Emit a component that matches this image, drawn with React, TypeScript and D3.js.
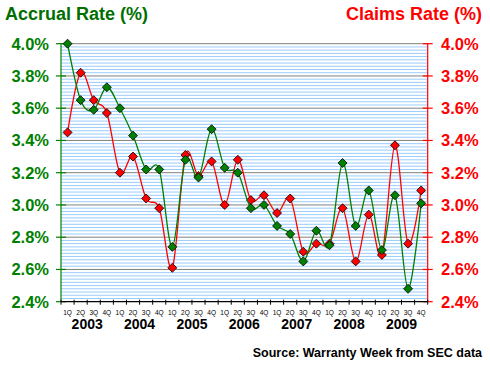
import React from 'react';
import * as d3 from 'd3';

const years = ['2003', '2004', '2005', '2006', '2007', '2008', '2009'];
const quarterLabels = ['1Q', '2Q', '3Q', '4Q'];
const accrualRate = [4.0, 3.65, 3.59, 3.73, 3.6, 3.43, 3.22, 3.22, 2.74, 3.28, 3.17, 3.47, 3.23, 3.2, 2.98, 3.0, 2.87, 2.82, 2.65, 2.84, 2.75, 3.26, 2.87, 3.09, 2.72, 3.06, 2.48, 3.01];
const claimsRate = [3.45, 3.82, 3.65, 3.57, 3.2, 3.3, 3.04, 2.98, 2.61, 3.31, 3.18, 3.27, 3.0, 3.28, 3.03, 3.06, 2.95, 3.04, 2.71, 2.76, 2.76, 2.98, 2.65, 2.94, 2.69, 3.37, 2.76, 3.09];
const yTicks = [2.4, 2.6, 2.8, 3.0, 3.2, 3.4, 3.6, 3.8, 4.0];

const GREEN = '#008000';
const RED = '#ff0000';
const FONT = '"Liberation Sans", Arial, sans-serif';

export default function App() {
  const width = 490;
  const height = 365;
  const left = 61;
  const right = 427.7;
  const top = 43.7;
  const bottom = 301.7;

  const idx = d3.range(accrualRate.length);
  const x = d3.scaleBand<number>().domain(idx).range([left, right]);
  const cx = (i: number) => (x(i) as number) + x.bandwidth() / 2;
  const y = d3.scaleLinear().domain([2.4, 4.0]).range([bottom, top]);

  const line = d3.line<number>()
    .x((d, i) => cx(i))
    .y(d => y(d))
    .curve(d3.curveCatmullRom.alpha(0));

  // minor grid every 0.02, major every 0.2
  const grid = d3.range(0, 81).map(k => ({ v: 2.4 + k * 0.02, major: k % 10 === 0 }));

  const diamond = (px: number, py: number, r = 4.5) =>
    `M${px},${py - r}L${px + r},${py}L${px},${py + r}L${px - r},${py}Z`;

  const boundaries = d3.range(0, accrualRate.length + 1).map(i =>
    i < accrualRate.length ? (x(i) as number) : right);

  return (
    <svg width={width} height={height} style={{ position: 'absolute', left: 0, top: 0, background: '#fff' }} fontFamily={FONT}>
      <rect x={0} y={0} width={width} height={height} fill="#fff" />

      {grid.filter(g => !g.major).map(g => (
        <line key={'m' + g.v} x1={left} x2={right} y1={y(g.v)} y2={y(g.v)} stroke="#99ccff" strokeWidth={1} />
      ))}
      {grid.filter(g => g.major && g.v > 2.41).map(g => (
        <line key={'M' + g.v} x1={left} x2={right} y1={y(g.v)} y2={y(g.v)} stroke="#808080" strokeWidth={1} />
      ))}

      {/* left axis */}
      <line x1={left} x2={left} y1={top} y2={bottom} stroke={GREEN} strokeWidth={1.2} />
      {yTicks.map(t => (
        <g key={'l' + t}>
          <line x1={left - 5} x2={left + 5} y1={y(t)} y2={y(t)} stroke={GREEN} strokeWidth={1.2} />
          <text x={49} y={y(t) + 5.8} textAnchor="end" fill={GREEN} fontSize={16.5} fontWeight="bold">{t.toFixed(1)}%</text>
        </g>
      ))}

      {/* right axis */}
      <line x1={right} x2={right} y1={top} y2={bottom} stroke={RED} strokeWidth={1.2} />
      {yTicks.map(t => (
        <g key={'r' + t}>
          <line x1={right - 5} x2={right + 5} y1={y(t)} y2={y(t)} stroke={RED} strokeWidth={1.2} />
          <text x={441} y={y(t) + 5.8} textAnchor="start" fill={RED} fontSize={16.5} fontWeight="bold">{t.toFixed(1)}%</text>
        </g>
      ))}

      {/* bottom axis */}
      <line x1={left} x2={right} y1={bottom} y2={bottom} stroke="#000" strokeWidth={1.2} />
      {boundaries.map((bx, i) => (
        <line key={'xt' + i} x1={bx} x2={bx} y1={bottom - 2} y2={bottom + 3} stroke="#000" strokeWidth={1} />
      ))}
      {idx.map(i => (
        <text key={'q' + i} x={cx(i)} y={314.5} textAnchor="middle" fontSize={6.5} fill="#000">{quarterLabels[i % 4]}</text>
      ))}
      {years.map((yr, j) => (
        <text key={yr} x={((x(j * 4) as number) + (x(j * 4 + 3) as number) + x.bandwidth()) / 2} y={329} textAnchor="middle" fontSize={14} fontWeight="bold" fill="#000">{yr}</text>
      ))}

      {/* series */}
      <path d={line(claimsRate) || ''} fill="none" stroke={RED} strokeWidth={1.3} />
      {claimsRate.map((v, i) => (
        <path key={'c' + i} d={diamond(cx(i), y(v))} fill={RED} stroke="#000" strokeWidth={0.8} />
      ))}
      <path d={line(accrualRate) || ''} fill="none" stroke={GREEN} strokeWidth={1.3} />
      {accrualRate.map((v, i) => (
        <path key={'a' + i} d={diamond(cx(i), y(v))} fill={GREEN} stroke="#000" strokeWidth={0.8} />
      ))}

      {/* titles */}
      <text x={5} y={20} fill="#006f00" fontSize={18} fontWeight="bold">Accrual Rate (%)</text>
      <text x={482} y={20} textAnchor="end" fill={RED} fontSize={18} fontWeight="bold">Claims Rate (%)</text>
      <text x={482} y={357} textAnchor="end" fill="#000" fontSize={12.5} fontWeight="bold">Source: Warranty Week from SEC data</text>
    </svg>
  );
}
